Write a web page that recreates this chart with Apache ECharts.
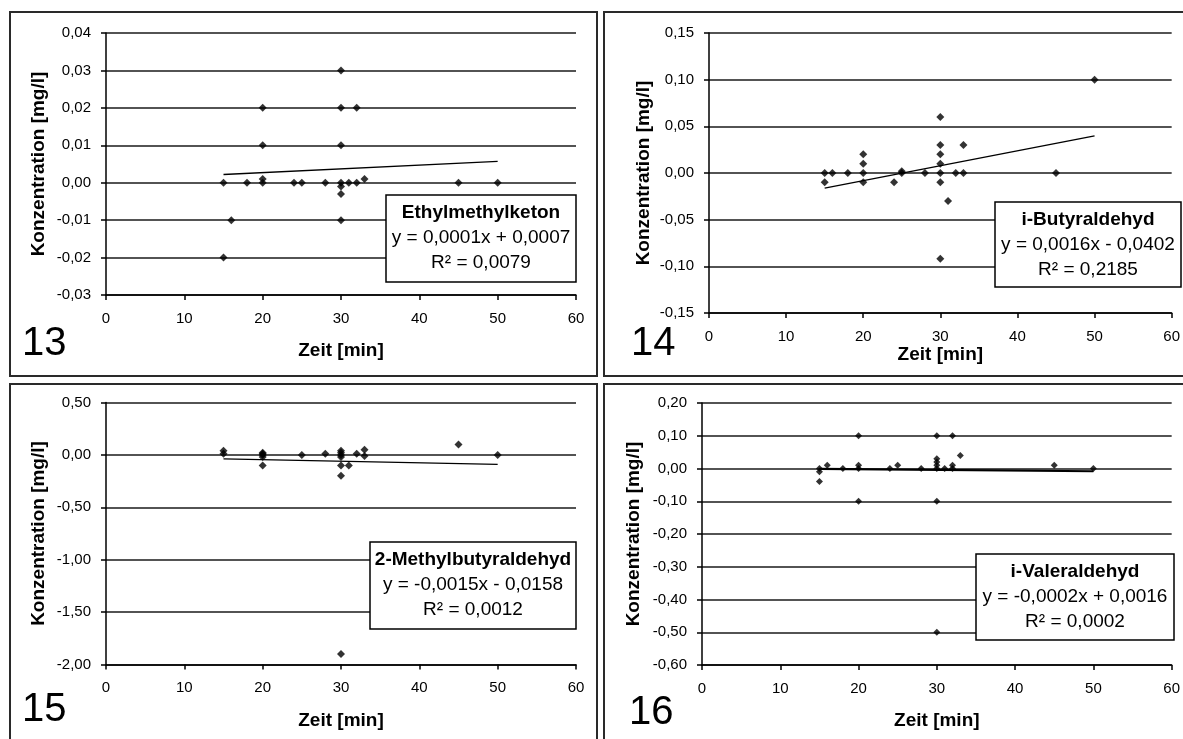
<!DOCTYPE html>
<html>
<head>
<meta charset="utf-8">
<script src="https://cdn.jsdelivr.net/npm/echarts@6/dist/echarts.min.js"></script>
<style>
  html, body { margin: 0; padding: 0; background: #fff; }
  #chart { width: 1183px; height: 739px; }
</style>
</head>
<body>
<div id="chart"></div>
<script>
// ---- Messwerte: Zeit [min] und Konzentration [mg/l] je Substanz ----
const ethylX = [15, 15, 16, 18, 20, 20, 20, 20, 24, 25, 28, 30, 30, 30, 30, 30, 30, 30, 31, 32, 32, 33, 45, 50];
const ethylY = [0, -0.02, -0.01, 0, 0, 0.001, 0.01, 0.02, 0, 0, 0, 0.03, 0.02, 0.01, 0, -0.001, -0.003, -0.01, 0, 0, 0.02, 0.001, 0, 0];

const butyrX = [15, 15, 16, 18, 20, 20, 20, 20, 24, 25, 25, 28, 30, 30, 30, 30, 30, 30, 30, 31, 32, 33, 33, 45, 50];
const butyrY = [0, -0.01, 0, 0, 0.02, 0.01, 0, -0.01, -0.01, 0.002, 0, 0, 0.06, 0.03, 0.02, 0.01, 0, -0.01, -0.092, -0.03, 0, 0.03, 0, 0, 0.1];

const methylbutX = [15, 15, 20, 20, 20, 20, 20, 25, 28, 30, 30, 30, 30, 30, 30, 30, 31, 32, 33, 33, 45, 50];
const methylbutY = [0.04, 0.01, 0.02, 0.01, 0, -0.02, -0.1, 0, 0.01, 0.04, 0.02, 0, -0.02, -0.1, -0.2, -1.9, -0.1, 0.01, 0.05, -0.01, 0.1, 0];

const valerX = [15, 15, 15, 16, 18, 20, 20, 20, 20, 24, 25, 28, 30, 30, 30, 30, 30, 30, 30, 31, 32, 32, 32, 33, 45, 50];
const valerY = [0, -0.01, -0.04, 0.01, 0, 0.1, 0.01, 0, -0.1, 0, 0.01, 0, 0.1, 0.03, 0.02, 0.01, 0, -0.1, -0.5, 0, 0.1, 0.01, 0, 0.04, 0.01, 0];

// ---- Beschriftungen und Regressionen ----
const panelNumbers = ['13', '14', '15', '16'];
const compoundNames = ['Ethylmethylketon', 'i-Butyraldehyd', '2-Methylbutyraldehyd', 'i-Valeraldehyd'];
const equations = ['y = 0,0001x + 0,0007', 'y = 0,0016x - 0,0402', 'y = -0,0015x - 0,0158', 'y = -0,0002x + 0,0016'];
const r2Labels = ['R\u00B2 = 0,0079', 'R\u00B2 = 0,2185', 'R\u00B2 = 0,0012', 'R\u00B2 = 0,0002'];
const slopes = [0.0001, 0.0016, -0.0015, -0.0002];
const intercepts = [0.0007, -0.0402, -0.0158, 0.0016];
const trendRange = [15, 50];

// ---- Achsenbereiche ----
const yMins = [-0.03, -0.15, -2.0, -0.6];
const yMaxs = [0.04, 0.15, 0.5, 0.2];
const ySteps = [0.01, 0.05, 0.5, 0.1];
const xMin = 0, xMax = 60, xStep = 10;

const xs = [ethylX, butyrX, methylbutX, valerX];
const ys = [ethylY, butyrY, methylbutY, valerY];

const FONT = '"Liberation Sans", Arial, Helvetica, sans-serif';

// Plot areas, boxes and frames of the four sub-diagrams
const layout = [
  { grid: { left: 106, top: 33, width: 470, height: 262 }, xGap: 46, yGap: 58,
    box: { x: 386, y: 195, w: 190, h: 87 }, num: { x: 22, y: 344 },
    frame: { x: 10, y: 12, w: 587, h: 364 } },
  { grid: { left: 709, top: 33, width: 473, height: 280 }, xGap: 30, yGap: 56,
    box: { x: 995, y: 202, w: 186, h: 85 }, num: { x: 631, y: 344 },
    frame: { x: 604, y: 12, w: 600, h: 364 } },
  { grid: { left: 106, top: 402.5, width: 470, height: 262 }, xGap: 47, yGap: 58,
    box: { x: 370, y: 542, w: 206, h: 87 }, num: { x: 22, y: 710 },
    frame: { x: 10, y: 384, w: 587, h: 380 } },
  { grid: { left: 702, top: 403, width: 472, height: 262 }, xGap: 46, yGap: 59,
    box: { x: 976, y: 554, w: 198, h: 86 }, num: { x: 629, y: 713 },
    frame: { x: 604, y: 384, w: 600, h: 380 } }
];

const fmtComma = v => {
  if (Math.abs(v) < 1e-9) v = 0;
  return v.toFixed(2).replace('.', ',');
};

const grids = [], xAxes = [], yAxes = [], series = [], graphics = [];

layout.forEach((p, i) => {
  grids.push(Object.assign({ containLabel: false }, p.grid));

  xAxes.push({
    type: 'value', gridIndex: i, min: xMin, max: xMax, interval: xStep,
    name: 'Zeit [min]', nameLocation: 'middle', nameGap: p.xGap,
    nameTextStyle: { fontFamily: FONT, fontWeight: 'bold', fontSize: 19, color: '#000' },
    axisLine: { show: true, onZero: false, lineStyle: { color: '#000', width: 1.5 } },
    axisTick: { show: true, inside: false, length: 5, lineStyle: { color: '#000', width: 1.5 } },
    axisLabel: { fontFamily: FONT, fontSize: 15, color: '#000', margin: 16 },
    splitLine: { show: false }
  });

  yAxes.push({
    type: 'value', gridIndex: i, min: yMins[i], max: yMaxs[i], interval: ySteps[i],
    name: 'Konzentration [mg/l]', nameLocation: 'middle', nameGap: p.yGap,
    nameTextStyle: { fontFamily: FONT, fontWeight: 'bold', fontSize: 19, color: '#000' },
    axisLine: { show: true, onZero: false, lineStyle: { color: '#000', width: 1.5 } },
    axisTick: { show: true, inside: false, length: 5, lineStyle: { color: '#000', width: 1.5 } },
    axisLabel: { fontFamily: FONT, fontSize: 15, color: '#000', margin: 15, formatter: fmtComma },
    splitLine: { show: true, lineStyle: { color: '#1a1a1a', width: 1.6 } }
  });

  series.push({
    type: 'scatter', xAxisIndex: i, yAxisIndex: i,
    symbol: 'diamond', symbolSize: i === 3 ? 7 : 8,
    itemStyle: { color: '#000' },
    data: xs[i].map((x, k) => [x, ys[i][k]]),
    z: 5, silent: true
  });

  series.push({
    type: 'line', xAxisIndex: i, yAxisIndex: i,
    showSymbol: false, symbol: 'none',
    lineStyle: { color: '#000', width: i === 3 ? 2.2 : 1.4 },
    data: trendRange.map(x => [x, slopes[i] * x + intercepts[i]]),
    z: 4, silent: true
  });

  // panel frame
  graphics.push({
    type: 'rect', z: 1, silent: true,
    shape: { x: p.frame.x, y: p.frame.y, width: p.frame.w, height: p.frame.h },
    style: { fill: 'none', stroke: '#2a2a2a', lineWidth: 2 }
  });

  // regression box (drawn above grid lines)
  const b = p.box;
  const cx = b.x + b.w / 2;
  graphics.push(
    { type: 'rect', z: 200, zlevel: 1, silent: true,
      shape: { x: b.x, y: b.y, width: b.w, height: b.h },
      style: { fill: '#fff', stroke: '#000', lineWidth: 1.5 } },
    { type: 'text', z: 201, zlevel: 1, silent: true,
      style: { text: compoundNames[i], x: cx, y: b.y + 18,
        font: 'bold 19px ' + FONT, fill: '#000', align: 'center', verticalAlign: 'middle' } },
    { type: 'text', z: 201, zlevel: 1, silent: true,
      style: { text: equations[i], x: cx, y: b.y + 43,
        font: '19px ' + FONT, fill: '#000', align: 'center', verticalAlign: 'middle' } },
    { type: 'text', z: 201, zlevel: 1, silent: true,
      style: { text: r2Labels[i], x: cx, y: b.y + 68,
        font: '19px ' + FONT, fill: '#000', align: 'center', verticalAlign: 'middle' } }
  );

  // panel number
  graphics.push({
    type: 'text', z: 201, zlevel: 1, silent: true,
    style: { text: panelNumbers[i], x: p.num.x, y: p.num.y, font: '40px ' + FONT,
      fill: '#000', align: 'left', verticalAlign: 'middle' }
  });
});

const chart = echarts.init(document.getElementById('chart'), null, { renderer: 'canvas' });
chart.setOption({
  animation: false,
  backgroundColor: '#fff',
  grid: grids,
  xAxis: xAxes,
  yAxis: yAxes,
  series: series,
  graphic: { elements: graphics }
});
</script>
</body>
</html>
